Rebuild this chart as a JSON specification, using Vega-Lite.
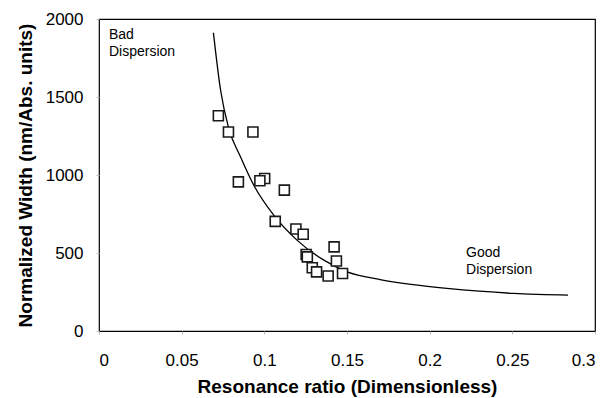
{
  "$schema": "https://vega.github.io/schema/vega-lite/v6.json",
  "width": 496,
  "height": 312,
  "autosize": "none",
  "padding": {"left": 99, "top": 19, "right": 14, "bottom": 67},
  "background": "white",
  "config": {
    "view": {"stroke": "#000000", "strokeWidth": 1.2},
    "font": "Liberation Sans",
    "axis": {
      "grid": false,
      "domain": false,
      "ticks": true,
      "tickSize": 3,
      "tickColor": "#bbbbbb",
      "labelFont": "Liberation Sans",
      "labelFontSize": 17,
      "labelColor": "#000000",
      "titleFont": "Liberation Sans",
      "titleFontSize": 19,
      "titleFontWeight": "bold",
      "titleColor": "#000000"
    }
  },
  "datasets": {
    "points": [
      {"ratio": 0.0722, "width": 1380},
      {"ratio": 0.0783, "width": 1276},
      {"ratio": 0.0931, "width": 1276},
      {"ratio": 0.0843, "width": 956},
      {"ratio": 0.1002, "width": 978},
      {"ratio": 0.0973, "width": 963},
      {"ratio": 0.1121, "width": 903},
      {"ratio": 0.1066, "width": 703},
      {"ratio": 0.1191, "width": 654},
      {"ratio": 0.1235, "width": 620},
      {"ratio": 0.1422, "width": 539},
      {"ratio": 0.1253, "width": 490},
      {"ratio": 0.1260, "width": 475},
      {"ratio": 0.1436, "width": 449},
      {"ratio": 0.1290, "width": 405},
      {"ratio": 0.1316, "width": 379},
      {"ratio": 0.1386, "width": 353},
      {"ratio": 0.1473, "width": 369}
    ],
    "curve": [
      {"ratio": 0.0692, "width": 1912},
      {"ratio": 0.0736, "width": 1540},
      {"ratio": 0.0783, "width": 1305},
      {"ratio": 0.0857, "width": 1114},
      {"ratio": 0.0937, "width": 933},
      {"ratio": 0.1058, "width": 741},
      {"ratio": 0.1199, "width": 581},
      {"ratio": 0.1360, "width": 454},
      {"ratio": 0.1501, "width": 379},
      {"ratio": 0.1700, "width": 330},
      {"ratio": 0.1900, "width": 297},
      {"ratio": 0.2104, "width": 273},
      {"ratio": 0.2300, "width": 255},
      {"ratio": 0.2506, "width": 241},
      {"ratio": 0.2700, "width": 233},
      {"ratio": 0.2837, "width": 230}
    ],
    "notes": [
      {"ratio": 0.006, "width": 1945, "label": "Bad\nDispersion"},
      {"ratio": 0.222, "width": 545, "label": "Good\nDispersion"}
    ]
  },
  "layer": [
    {
      "data": {"name": "curve"},
      "mark": {"type": "line", "color": "#000000", "strokeWidth": 1.3, "interpolate": "monotone"},
      "encoding": {
        "x": {
          "field": "ratio", "type": "quantitative",
          "scale": {"domain": [0, 0.3], "nice": false, "zero": false},
          "axis": {"values": [0, 0.05, 0.1, 0.15, 0.2, 0.25, 0.3], "labelPadding": 18, "titlePadding": 9, "title": "Resonance ratio (Dimensionless)", "labelExpr": "datum.value == 0 ? '0' : format(datum.value, '.2~f')"}
        },
        "y": {
          "field": "width", "type": "quantitative",
          "scale": {"domain": [0, 2000], "nice": false},
          "axis": {"values": [0, 500, 1000, 1500, 2000], "format": "d", "labelPadding": 13, "titlePadding": 10, "title": "Normalized Width (nm/Abs. units)"}
        }
      }
    },
    {
      "data": {"name": "points"},
      "mark": {"type": "point", "shape": "square", "size": 100, "filled": false, "fill": "white", "fillOpacity": 1, "stroke": "#1a1a1a", "strokeWidth": 1.6, "opacity": 1},
      "encoding": {
        "x": {"field": "ratio", "type": "quantitative"},
        "y": {"field": "width", "type": "quantitative"}
      }
    },
    {
      "data": {"name": "notes"},
      "mark": {"type": "text", "align": "left", "baseline": "top", "fontSize": 14, "lineHeight": 17, "lineBreak": "\n", "color": "#000000", "font": "Liberation Sans"},
      "encoding": {
        "x": {"field": "ratio", "type": "quantitative"},
        "y": {"field": "width", "type": "quantitative"},
        "text": {"field": "label"}
      }
    }
  ]
}
